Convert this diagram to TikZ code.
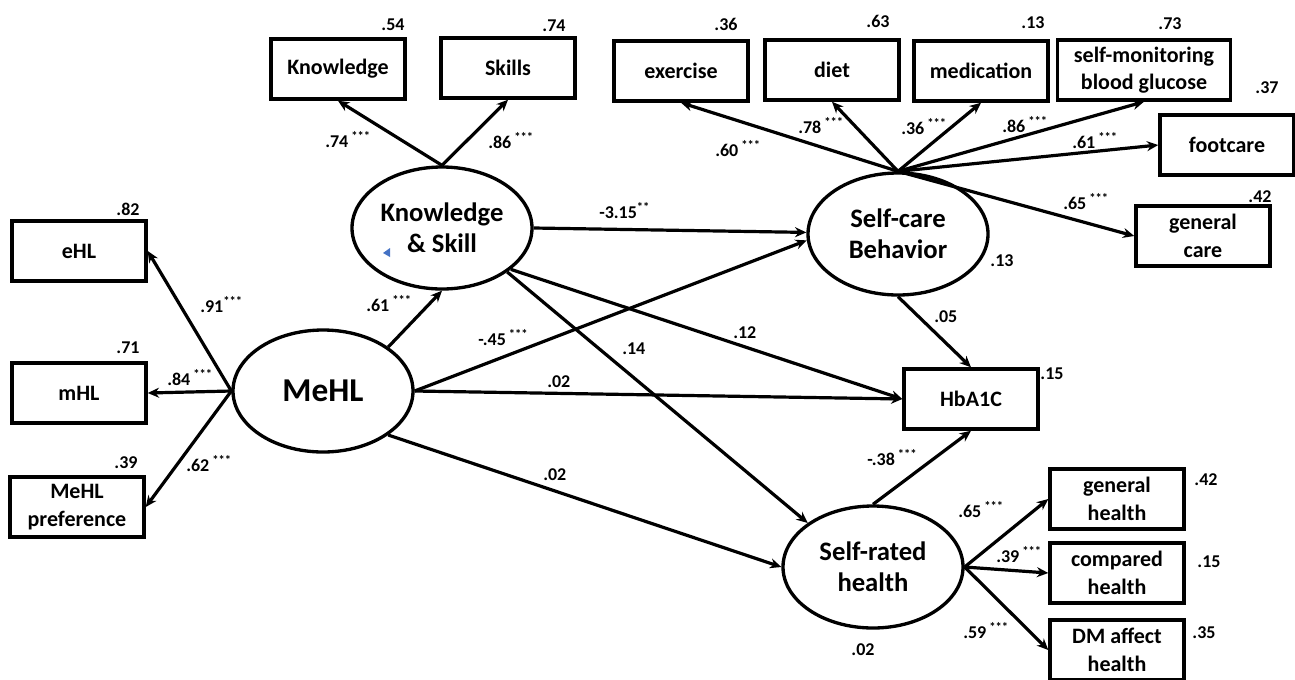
\documentclass[tikz,border=0pt]{standalone}
\usepackage{fontspec}
\setmainfont{Carlito}
\usetikzlibrary{arrows.meta,shapes.geometric,calc}
\definecolor{markblue}{HTML}{4472C4}
\newcommand{\threestar}{\textsuperscript{***}}
\newcommand{\twostar}{\textsuperscript{**}}
\begin{document}
\begin{tikzpicture}[x=0.75pt,y=-0.75pt,
  obs/.style={draw, line width=2.6pt, minimum width=100.5pt, minimum height=45pt, inner sep=1pt, align=center, font=\fontsize{16.5}{20.5}\selectfont\bfseries},
  lat/.style={draw, ellipse, line width=2.5pt, minimum width=135pt, minimum height=91.5pt, inner sep=0pt, align=center, font=\fontsize{20}{23}\selectfont\bfseries},
  arr/.style={line width=2.4pt, -{Stealth[length=8.5pt,width=7.5pt]}},
  coef/.style={anchor=base west, inner sep=0pt, font=\fontsize{13.5}{15}\selectfont\bfseries},
  rsq/.style={inner sep=0pt, font=\fontsize{13.5}{15}\selectfont\bfseries},
]
\useasboundingbox (0,0) rectangle (1295,679);

% observed boxes
\node[obs] (know) at (338,69) {Knowledge};
\node[obs] (skill) at (508,68) {Skills};
\node[obs] (ehl) at (79,251) {eHL};
\node[obs] (mhl) at (79,393) {mHL};
\node[obs] (mpref) at (77,507) {MeHL\\preference};
\node[obs] (exer) at (681,71) {exercise};
\node[obs] (diet) at (832,70) {diet};
\node[obs] (med) at (981,71) {medication};
\node[obs, minimum width=129.75pt] (smbg) at (1144,70) {self-monitoring\\blood glucose};
\node[obs] (foot) at (1227,145) {footcare};
\node[obs] (gcare) at (1203,236) {general\\care};
\node[obs] (hba) at (971,399) {HbA1C};
\node[obs] (gh) at (1117,499) {general\\health};
\node[obs] (ch) at (1117,573) {compared\\health};
\node[obs] (dmh) at (1117,650) {DM affect\\health};

% latent ellipses
\node[lat] (ks) at (442,228) {Knowledge\\\& Skill};
\node[lat] (scb) at (898,234) {Self-care\\Behavior};
\node[lat, font=\fontsize{25}{28}\selectfont\bfseries] (mehl) at (323,391) {MeHL};
\node[lat] (srh) at (873,567) {Self-rated\\health};

\fill[markblue] (383,253) -- (390,248) -- (390,257) -- cycle;

% connectors
\draw[arr] (ks.north) -- (know.south);
\draw[arr] (ks.north) -- (skill.south);
\draw[arr] (mehl.west) -- (ehl.east);
\draw[arr] (mehl.west) -- (mhl.east);
\draw[arr] (mehl.west) -- (mpref.east);
\draw[arr] (mehl.34) -- (ks.south);
\draw[arr] (ks.east) -- (scb.179);
\draw[arr] (mehl.east) -- (scb.184);
\draw[arr] (ks.-31) -- (hba.west);
\draw[arr] (mehl.east) -- (hba.west);
\draw[arr] (ks.-34) -- (srh.146);
\draw[arr] (mehl.-34) -- (srh.west);
\draw[arr] (scb.south) -- (hba.north);
\draw[arr] (srh.north) -- (hba.south);
\draw[arr] (scb.north) -- (exer.south);
\draw[arr] (scb.north) -- (diet.south);
\draw[arr] (scb.north) -- (med.south);
\draw[arr] (scb.north) -- (smbg.south);
\draw[arr] (scb.north) -- (foot.west);
\draw[arr] (scb.north) -- (gcare.west);
\draw[arr] (srh.east) -- (gh.west);
\draw[arr] (srh.east) -- (ch.west);
\draw[arr] (srh.east) -- (dmh.west);

% path coefficients
\node[coef] (c1) at (325,147) {.74\,\threestar};
\node[coef] (c2) at (488,148) {.86\,\threestar};
\node[coef] (c3) at (200,312) {.91\threestar};
\node[coef] (c4) at (167,385) {.84\,\threestar};
\node[coef] (c5) at (186,471) {.62\,\threestar};
\node[coef] (c6) at (366,311) {.61\,\threestar};
\node[coef] (c7) at (599,218) {-3.15\twostar};
\node[coef] (c8) at (478,345) {-.45\,\threestar};
\node[coef] (c9) at (547,387) {.02};
\node[coef] (c10) at (622,354) {.14};
\node[coef] (c11) at (733,338) {.12};
\node[coef] (c12) at (543,480) {.02};
\node[coef] (c13) at (715,156) {.60\,\threestar};
\node[coef] (c14) at (798,133) {.78\,\threestar};
\node[coef] (c15) at (901,134) {.36\,\threestar};
\node[coef] (c16) at (1002,132) {.86\,\threestar};
\node[coef] (c17) at (1072,148) {.61\,\threestar};
\node[coef] (c18) at (1063,209) {.65\,\threestar};
\node[coef] (c19) at (934,322) {.05};
\node[coef] (c20) at (867,465) {-.38\,\threestar};
\node[coef] (c21) at (958,517) {.65\,\threestar};
\node[coef] (c22) at (996,562) {.39\,\threestar};
\node[coef] (c23) at (963,638) {.59\,\threestar};

% R squared
\node[rsq] (r1) at (393,25) {.54};
\node[rsq] (r2) at (554,26) {.74};
\node[rsq] (r3) at (726,24) {.36};
\node[rsq] (r4) at (878,21) {.63};
\node[rsq] (r5) at (1033,23) {.13};
\node[rsq] (r6) at (1170,24) {.73};
\node[rsq] (r7) at (1267,88) {.37};
\node[rsq] (r8) at (1260,197) {.42};
\node[rsq] (r9) at (1002,261) {.13};
\node[rsq] (r10) at (128,209) {.82};
\node[rsq] (r11) at (128,348) {.71};
\node[rsq] (r12) at (126,463) {.39};
\node[rsq] (r13) at (1052,374) {.15};
\node[rsq] (r14) at (1206,480) {.42};
\node[rsq] (r15) at (1209,562) {.15};
\node[rsq] (r16) at (1204,633) {.35};
\node[rsq] (r17) at (863,650) {.02};
\end{tikzpicture}
\end{document}
